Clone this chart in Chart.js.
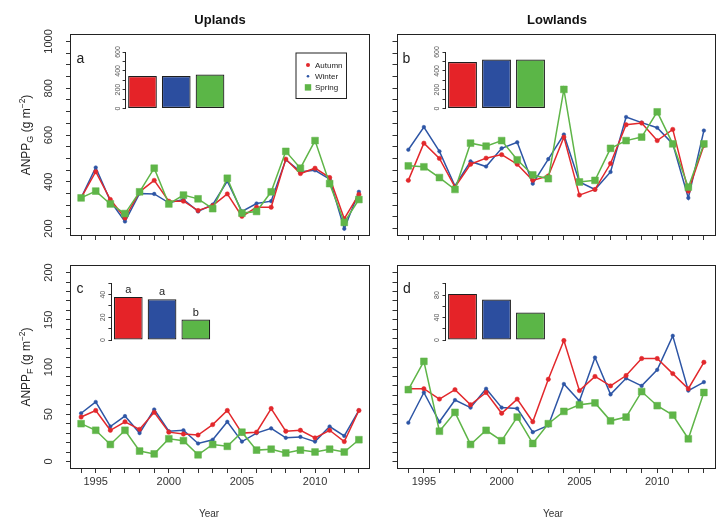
<!DOCTYPE html>
<html><head><meta charset="utf-8">
<script src="https://cdn.jsdelivr.net/npm/chart.js@4.4.1/dist/chart.umd.min.js"></script>
<style>
html,body{margin:0;padding:0;background:#fff;}
#wrap{position:relative;width:721px;height:527px;overflow:hidden;background:#fff;}
canvas{position:absolute;}
</style></head><body><div id="wrap"></div>
<script>
// ---------------- DATA ----------------
const years = [1994,1995,1996,1997,1998,1999,2000,2001,2002,2003,2004,2005,2006,2007,2008,2009,2010,2011,2012,2013];
const seasons = ['Autumn','Winter','Spring'];

const upG_autumn = [331,443,324,245,357,406,317,317,277,298,348,252,291,291,497,435,458,418,242,346];
const upG_winter = [331,461,317,230,350,348,310,324,273,302,403,273,307,317,494,443,449,411,199,357];
const upG_spring = [331,360,305,264,357,458,305,343,327,285,415,266,273,357,530,458,576,392,226,324];

const lowG_autumn = [406,565,500,377,475,501,516,475,406,425,591,343,367,478,644,651,576,624,360,555];
const lowG_winter = [537,634,530,382,487,465,543,569,392,497,602,399,367,442,677,653,631,562,331,619];
const lowG_spring = [468,464,418,367,565,552,576,494,429,413,795,399,406,543,576,591,699,562,377,562];

const upF_autumn = [47,54,33,42,34,52,31,29,28,39,54,30,31,56,32,33,25,33,21,54];
const upF_winter = [51,63,37,48,30,55,32,33,19,23,42,21,30,35,25,26,21,37,27,54];
const upF_spring = [40,33,18,33,11,8,24,22,7,18,16,31,12,13,9,12,10,13,10,23];

const lowF_autumn = [77,77,66,76,60,73,51,66,42,87,128,75,90,80,91,109,109,93,77,105];
const lowF_winter = [41,73,42,65,57,77,57,56,31,38,82,64,110,71,88,80,97,133,75,84];
const lowF_spring = [76,106,32,52,18,33,22,47,19,40,53,60,62,43,47,74,59,49,24,73];

const upG_means = [345,345,360];
const lowG_means = [494,520,520];
const upF_means = [38,36,18];
const lowF_means = [82,72,49];
const upF_letters = ['a','a','b'];

const yTicksG = [200,400,600,800,1000];
const yTicksF = [0,50,100,150,200];
const xTickLabels = [1995,2000,2005,2010];
const insetTicksG = [0,200,400,600];
const insetTicksUpF = [0,20,40];
const insetTicksLowF = [0,40,80];

// ---------------- STYLE ----------------
const FF = "'Liberation Sans', Arial, Helvetica, sans-serif";
Chart.defaults.font.family = FF;
Chart.defaults.color = '#333';
const C = {red:'#e2282c', blue:'#2d55a5', green:'#5fb548'};
const barColors = ['#e52328','#2c4e9f','#5bb647'];

const wrap = document.getElementById('wrap');
function addCanvas(x,y,w,h){
  const c = document.createElement('canvas');
  c.width = w; c.height = h;
  c.style.left = x+'px'; c.style.top = y+'px';
  c.style.width = w+'px'; c.style.height = h+'px';
  wrap.appendChild(c);
  return c;
}

function drawRichLabel(ctx, x, y, sub){
  const parts = [
    {t:'ANPP', s:12, dy:0},
    {t:sub, s:9, dy:3},
    {t:' (g m', s:12, dy:0},
    {t:'\u22122', s:8.5, dy:-5},
    {t:')', s:12, dy:0}
  ];
  let w = 0;
  parts.forEach(p=>{ ctx.font = p.s+'px '+FF; p.w = ctx.measureText(p.t).width; w += p.w; });
  ctx.save();
  ctx.translate(x, y);
  ctx.rotate(-Math.PI/2);
  ctx.fillStyle = '#222';
  ctx.textAlign = 'left';
  ctx.textBaseline = 'alphabetic';
  let px = -w/2;
  parts.forEach(p=>{ ctx.font = p.s+'px '+FF; ctx.fillText(p.t, px, 4 + p.dy); px += p.w; });
  ctx.restore();
}

const extrasPlugin = {
  id: 'extras',
  afterDraw(chart, args, o){
    const ctx = chart.ctx, a = chart.chartArea, ox = o.ox||0, oy = o.oy||0;
    ctx.save();
    if (o.box){
      ctx.strokeStyle = '#222'; ctx.lineWidth = 1;
      ctx.strokeRect(Math.round(a.left)+0.5, Math.round(a.top)+0.5, Math.round(a.right-a.left)-1, Math.round(a.bottom-a.top)-1);
    }
    if (o.yLabels){
      const sc = chart.scales.y;
      ctx.fillStyle = o.yLabelColor || '#333';
      ctx.font = o.yLabelFont;
      ctx.textAlign = 'center'; ctx.textBaseline = 'middle';
      o.yLabels.forEach(v=>{
        const py = sc.getPixelForValue(v);
        ctx.save(); ctx.translate(a.left - o.yLabelOffset, py); ctx.rotate(-Math.PI/2);
        ctx.fillText(String(v), 0, 0); ctx.restore();
      });
    }
    (o.texts||[]).forEach(t=>{
      ctx.font = t.font; ctx.fillStyle = t.color || '#222';
      ctx.textAlign = t.align || 'center'; ctx.textBaseline = t.baseline || 'middle';
      ctx.fillText(t.text, t.x - ox, t.y - oy);
    });
    if (o.ylab){ drawRichLabel(ctx, o.ylab.x - ox, o.ylab.y - oy, o.ylab.sub); }
    if (o.legend){
      const L = o.legend;
      ctx.strokeStyle = '#222'; ctx.lineWidth = 1;
      ctx.strokeRect(L.x - ox + 0.5, L.y - oy + 0.5, L.w, L.h);
      ctx.font = '8px '+FF; ctx.textAlign = 'left'; ctx.textBaseline = 'middle';
      chart.data.datasets.forEach((ds, i)=>{
        const yy = L.y - oy + 12.5 + i*11.2;
        const sx = L.x - ox + 12.5;
        ctx.fillStyle = ds.borderColor;
        if (ds.pointStyle === 'rect'){ ctx.fillRect(sx-3.2, yy-3.2, 6.4, 6.4); }
        else { ctx.beginPath(); ctx.arc(sx, yy, ds.label==='Autumn'?2:1.3, 0, Math.PI*2); ctx.fill(); }
        ctx.fillStyle = '#222';
        ctx.fillText(ds.label, sx + 7, yy + 0.5);
      });
    }
    if (o.letters){
      const meta = chart.getDatasetMeta(0);
      ctx.font = '11px '+FF; ctx.fillStyle = '#222'; ctx.textAlign = 'center'; ctx.textBaseline = 'alphabetic';
      meta.data.forEach((el, i)=>{ ctx.fillText(o.letters[i], el.x, el.y - 4); });
    }
    ctx.restore();
  }
};

function mainPanel(cfg){
  const {cx, cy, cw, ch, area} = cfg;
  const L = area.l - cx, T = area.t - cy, R = cw - (area.r - cx), B = ch - (area.b - cy);
  const canvas = addCanvas(cx, cy, cw, ch);
  const mk = (label, arr, color, style, radius, order) => ({
    label, data: years.map((x,i)=>({x:x, y:arr[i]})),
    borderColor: color, backgroundColor: color, pointBackgroundColor: color, pointBorderColor: color,
    borderWidth: 1.5, pointRadius: radius, pointHoverRadius: radius, pointStyle: style,
    pointBorderWidth: 0.5, tension: 0, order: order
  });
  return new Chart(canvas, {
    type: 'line',
    data: {datasets: [
      mk('Autumn', cfg.a, C.red, 'circle', 2.2, 2),
      mk('Winter', cfg.w, C.blue, 'circle', 1.8, 3),
      mk('Spring', cfg.s, C.green, 'rect', 4.8, 1)
    ]},
    options: {
      responsive: false, animation: false, devicePixelRatio: 1,
      layout: {padding: {left: 0, top: T, right: R, bottom: 0}},
      plugins: {
        legend: {display: false}, tooltip: {enabled: false}, title: {display: false},
        extras: {
          ox: cx, oy: cy, box: true,
          yLabels: cfg.yLabels, yLabelFont: '11px '+FF, yLabelOffset: 21, yLabelColor: '#333',
          texts: cfg.texts, ylab: cfg.ylab, legend: cfg.legend
        }
      },
      scales: {
        x: {
          type: 'linear', min: 1993.24, max: 2013.76,
          afterBuildTicks: s => { s.ticks = years.map(v => ({value: v})); },
          afterFit: s => { s.height = B; },
          ticks: {display: cfg.showX, autoSkip: false, maxRotation: 0, minRotation: 0, padding: 2,
                  color: '#333', font: {size: 11},
                  callback: v => xTickLabels.includes(v) ? String(v) : ''},
          grid: {drawOnChartArea: false, drawTicks: true, tickLength: 4, color: '#333', lineWidth: 1},
          border: {display: false}
        },
        y: {
          type: 'linear', min: cfg.yMin, max: cfg.yMax,
          afterBuildTicks: s => { const t = []; for (let v = cfg.t0; v <= cfg.t1 + 1e-9; v += cfg.step) t.push({value: v}); s.ticks = t; },
          afterFit: s => { s.width = L; },
          ticks: {display: false},
          grid: {drawOnChartArea: false, drawTicks: true, tickLength: 4, color: '#333', lineWidth: 1},
          border: {display: false}
        }
      }
    },
    plugins: [extrasPlugin]
  });
}

function insetPanel(cfg){
  const {cx, cy, cw, ch, area} = cfg;
  const L = area.l - cx, T = area.t - cy, R = cw - (area.r - cx), B = ch - (area.b - cy);
  const canvas = addCanvas(cx, cy, cw, ch);
  return new Chart(canvas, {
    type: 'bar',
    data: {labels: seasons, datasets: [{
      data: cfg.values, backgroundColor: barColors, borderColor: '#1e1e1e', borderWidth: 1.2,
      borderSkipped: false, barPercentage: 0.85, categoryPercentage: 1
    }]},
    options: {
      responsive: false, animation: false, devicePixelRatio: 1,
      layout: {padding: {left: 0, top: T, right: R, bottom: 0}},
      plugins: {
        legend: {display: false}, tooltip: {enabled: false},
        extras: {ox: cx, oy: cy, yLabels: cfg.yLabels, yLabelFont: '7px '+FF, yLabelOffset: 8,
                 yLabelColor: '#555', letters: cfg.letters}
      },
      scales: {
        x: {type: 'category', offset: true, ticks: {display: false}, grid: {display: false},
            border: {display: false}, afterFit: s => { s.height = B; }},
        y: {min: 0, max: cfg.yMax,
            afterBuildTicks: s => { const t = []; for (let v = 0; v <= cfg.yMax + 1e-9; v += cfg.step) t.push({value: v}); s.ticks = t; },
            afterFit: s => { s.width = L; },
            ticks: {display: false},
            grid: {drawOnChartArea: false, drawTicks: true, tickLength: 3, color: '#333', lineWidth: 1},
            border: {display: true, color: '#222', width: 1}}
      }
    },
    plugins: [extrasPlugin]
  });
}

const TITLE_FONT = 'bold 13px '+FF;
const LETTER_FONT = '14px '+FF;
const YEAR_FONT = '10px '+FF;

// Panel a
mainPanel({cx:0, cy:0, cw:384, ch:250, area:{l:70, t:34, r:370, b:236},
  a: upG_autumn, w: upG_winter, s: upG_spring,
  yMin: 168, yMax: 1032, t0: 200, t1: 1000, step: 50, yLabels: yTicksG, showX: false,
  texts: [{text:'Uplands', x:220, y:20, font:TITLE_FONT, color:'#111'},
          {text:'a', x:80.5, y:63, font:LETTER_FONT, baseline:'alphabetic'}],
  ylab: {x:26, y:135, sub:'G'},
  legend: {x:295.5, y:52.5, w:50.5, h:45.5}
});
// Panel b
mainPanel({cx:384, cy:0, cw:337, ch:250, area:{l:396.5, t:34, r:717, b:236},
  a: lowG_autumn, w: lowG_winter, s: lowG_spring,
  yMin: 168, yMax: 1032, t0: 200, t1: 1000, step: 50, yLabels: null, showX: false,
  texts: [{text:'Lowlands', x:557, y:20, font:TITLE_FONT, color:'#111'},
          {text:'b', x:406.5, y:62.5, font:LETTER_FONT, baseline:'alphabetic'}]
});
// Panel c
mainPanel({cx:0, cy:250, cw:384, ch:277, area:{l:70, t:265, r:370, b:469},
  a: upF_autumn, w: upF_winter, s: upF_spring,
  yMin: -8, yMax: 208, t0: 0, t1: 200, step: 10, yLabels: yTicksF, showX: true,
  texts: [{text:'c', x:80, y:292.5, font:LETTER_FONT, baseline:'alphabetic'},
          {text:'Year', x:209, y:514, font:YEAR_FONT, color:'#333'}],
  ylab: {x:26, y:367, sub:'F'}
});
// Panel d
mainPanel({cx:384, cy:250, cw:337, ch:277, area:{l:396.5, t:265, r:717, b:469},
  a: lowF_autumn, w: lowF_winter, s: lowF_spring,
  yMin: -8, yMax: 208, t0: 0, t1: 200, step: 10, yLabels: null, showX: true,
  texts: [{text:'d', x:407, y:293, font:LETTER_FONT, baseline:'alphabetic'},
          {text:'Year', x:553, y:514, font:YEAR_FONT, color:'#333'}]
});

// Insets
insetPanel({cx:100, cy:40, cw:135, ch:80, area:{l:125.6, t:52, r:226.9, b:108.5},
  values: upG_means, yMax: 600, step: 100, yLabels: insetTicksG});
insetPanel({cx:420, cy:40, cw:140, ch:80, area:{l:445.5, t:52, r:547.5, b:108.5},
  values: lowG_means, yMax: 600, step: 100, yLabels: insetTicksG});
insetPanel({cx:90, cy:270, cw:135, ch:85, area:{l:111.4, t:283.3, r:212.7, b:340},
  values: upF_means, yMax: 50, step: 10, yLabels: insetTicksUpF, letters: upF_letters});
insetPanel({cx:420, cy:270, cw:140, ch:85, area:{l:445.5, t:283.8, r:547.5, b:340},
  values: lowF_means, yMax: 100, step: 20, yLabels: insetTicksLowF});
</script></body></html>
